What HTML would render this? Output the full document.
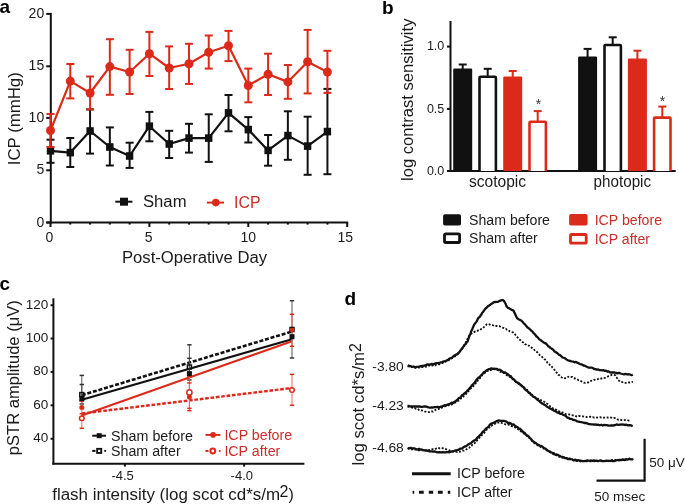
<!DOCTYPE html>
<html><head><meta charset="utf-8"><style>
html,body{margin:0;padding:0;background:#fff;}
svg{display:block;will-change:transform;font-family:"Liberation Sans", sans-serif;}
</style></head><body>
<svg width="685" height="504" viewBox="0 0 685 504">
<rect width="685" height="504" fill="#fff"/>
<text x="-0.6" y="12.5" font-size="19" fill="#000" text-anchor="start" font-weight="bold" >a</text>
<line x1="50.8" y1="12.9" x2="50.8" y2="223.5" stroke="#111111" stroke-width="2" />
<line x1="46.2" y1="13.9" x2="50.8" y2="13.9" stroke="#111111" stroke-width="2" />
<text x="44.2" y="18.0" font-size="14" fill="#1a1a1a" text-anchor="end" >20</text>
<line x1="46.2" y1="66.3" x2="50.8" y2="66.3" stroke="#111111" stroke-width="2" />
<text x="44.2" y="70.39999999999999" font-size="14" fill="#1a1a1a" text-anchor="end" >15</text>
<line x1="46.2" y1="117.9" x2="50.8" y2="117.9" stroke="#111111" stroke-width="2" />
<text x="44.2" y="122.0" font-size="14" fill="#1a1a1a" text-anchor="end" >10</text>
<line x1="46.2" y1="170.3" x2="50.8" y2="170.3" stroke="#111111" stroke-width="2" />
<text x="44.2" y="174.4" font-size="14" fill="#1a1a1a" text-anchor="end" >5</text>
<line x1="46.2" y1="222.5" x2="50.8" y2="222.5" stroke="#111111" stroke-width="2" />
<text x="44.2" y="226.6" font-size="14" fill="#1a1a1a" text-anchor="end" >0</text>
<line x1="46.2" y1="222.5" x2="348.2" y2="222.5" stroke="#111111" stroke-width="2" />
<line x1="50.5" y1="222.5" x2="50.5" y2="227.0" stroke="#111111" stroke-width="2" />
<line x1="70.28" y1="222.5" x2="70.28" y2="224.6" stroke="#111111" stroke-width="2" />
<line x1="90.06" y1="222.5" x2="90.06" y2="224.6" stroke="#111111" stroke-width="2" />
<line x1="109.84" y1="222.5" x2="109.84" y2="224.6" stroke="#111111" stroke-width="2" />
<line x1="129.62" y1="222.5" x2="129.62" y2="224.6" stroke="#111111" stroke-width="2" />
<line x1="149.4" y1="222.5" x2="149.4" y2="227.0" stroke="#111111" stroke-width="2" />
<line x1="169.18" y1="222.5" x2="169.18" y2="224.6" stroke="#111111" stroke-width="2" />
<line x1="188.96" y1="222.5" x2="188.96" y2="224.6" stroke="#111111" stroke-width="2" />
<line x1="208.74" y1="222.5" x2="208.74" y2="224.6" stroke="#111111" stroke-width="2" />
<line x1="228.52" y1="222.5" x2="228.52" y2="224.6" stroke="#111111" stroke-width="2" />
<line x1="248.3" y1="222.5" x2="248.3" y2="227.0" stroke="#111111" stroke-width="2" />
<line x1="268.08000000000004" y1="222.5" x2="268.08000000000004" y2="224.6" stroke="#111111" stroke-width="2" />
<line x1="287.86" y1="222.5" x2="287.86" y2="224.6" stroke="#111111" stroke-width="2" />
<line x1="307.64" y1="222.5" x2="307.64" y2="224.6" stroke="#111111" stroke-width="2" />
<line x1="327.42" y1="222.5" x2="327.42" y2="224.6" stroke="#111111" stroke-width="2" />
<line x1="347.20000000000005" y1="222.5" x2="347.20000000000005" y2="227.0" stroke="#111111" stroke-width="2" />
<text x="49.4" y="242.3" font-size="14" fill="#1a1a1a" text-anchor="middle" >0</text>
<text x="148.6" y="242.3" font-size="14" fill="#1a1a1a" text-anchor="middle" >5</text>
<text x="248.3" y="242.3" font-size="14" fill="#1a1a1a" text-anchor="middle" >10</text>
<text x="345.2" y="242.3" font-size="14" fill="#1a1a1a" text-anchor="middle" >15</text>
<text x="20.2" y="165.2" font-size="16" fill="#1a1a1a" text-anchor="start" textLength="93" lengthAdjust="spacingAndGlyphs" transform="rotate(-90 20.2 165.2)" >ICP (mmHg)</text>
<text x="122.0" y="262.7" font-size="16" fill="#1a1a1a" text-anchor="start" textLength="145" lengthAdjust="spacingAndGlyphs" >Post-Operative Day</text>
<line x1="50.5" y1="139.7" x2="50.5" y2="162.8" stroke="#111111" stroke-width="2" />
<line x1="46.5" y1="139.7" x2="54.5" y2="139.7" stroke="#111111" stroke-width="2" />
<line x1="46.5" y1="162.8" x2="54.5" y2="162.8" stroke="#111111" stroke-width="2" />
<line x1="70.28" y1="138.0" x2="70.28" y2="167.0" stroke="#111111" stroke-width="2" />
<line x1="66.28" y1="138.0" x2="74.28" y2="138.0" stroke="#111111" stroke-width="2" />
<line x1="66.28" y1="167.0" x2="74.28" y2="167.0" stroke="#111111" stroke-width="2" />
<line x1="90.06" y1="109.4" x2="90.06" y2="153.6" stroke="#111111" stroke-width="2" />
<line x1="86.06" y1="109.4" x2="94.06" y2="109.4" stroke="#111111" stroke-width="2" />
<line x1="86.06" y1="153.6" x2="94.06" y2="153.6" stroke="#111111" stroke-width="2" />
<line x1="109.84" y1="127.4" x2="109.84" y2="165.5" stroke="#111111" stroke-width="2" />
<line x1="105.84" y1="127.4" x2="113.84" y2="127.4" stroke="#111111" stroke-width="2" />
<line x1="105.84" y1="165.5" x2="113.84" y2="165.5" stroke="#111111" stroke-width="2" />
<line x1="129.62" y1="142.7" x2="129.62" y2="167.9" stroke="#111111" stroke-width="2" />
<line x1="125.62" y1="142.7" x2="133.62" y2="142.7" stroke="#111111" stroke-width="2" />
<line x1="125.62" y1="167.9" x2="133.62" y2="167.9" stroke="#111111" stroke-width="2" />
<line x1="149.4" y1="111.9" x2="149.4" y2="141.3" stroke="#111111" stroke-width="2" />
<line x1="145.4" y1="111.9" x2="153.4" y2="111.9" stroke="#111111" stroke-width="2" />
<line x1="145.4" y1="141.3" x2="153.4" y2="141.3" stroke="#111111" stroke-width="2" />
<line x1="169.18" y1="130.8" x2="169.18" y2="158.0" stroke="#111111" stroke-width="2" />
<line x1="165.18" y1="130.8" x2="173.18" y2="130.8" stroke="#111111" stroke-width="2" />
<line x1="165.18" y1="158.0" x2="173.18" y2="158.0" stroke="#111111" stroke-width="2" />
<line x1="188.96" y1="123.8" x2="188.96" y2="152.6" stroke="#111111" stroke-width="2" />
<line x1="184.96" y1="123.8" x2="192.96" y2="123.8" stroke="#111111" stroke-width="2" />
<line x1="184.96" y1="152.6" x2="192.96" y2="152.6" stroke="#111111" stroke-width="2" />
<line x1="208.74" y1="114.3" x2="208.74" y2="161.9" stroke="#111111" stroke-width="2" />
<line x1="204.74" y1="114.3" x2="212.74" y2="114.3" stroke="#111111" stroke-width="2" />
<line x1="204.74" y1="161.9" x2="212.74" y2="161.9" stroke="#111111" stroke-width="2" />
<line x1="228.52" y1="95.0" x2="228.52" y2="131.3" stroke="#111111" stroke-width="2" />
<line x1="224.52" y1="95.0" x2="232.52" y2="95.0" stroke="#111111" stroke-width="2" />
<line x1="224.52" y1="131.3" x2="232.52" y2="131.3" stroke="#111111" stroke-width="2" />
<line x1="248.3" y1="117.1" x2="248.3" y2="142.5" stroke="#111111" stroke-width="2" />
<line x1="244.3" y1="117.1" x2="252.3" y2="117.1" stroke="#111111" stroke-width="2" />
<line x1="244.3" y1="142.5" x2="252.3" y2="142.5" stroke="#111111" stroke-width="2" />
<line x1="268.08000000000004" y1="135.0" x2="268.08000000000004" y2="165.7" stroke="#111111" stroke-width="2" />
<line x1="264.08000000000004" y1="135.0" x2="272.08000000000004" y2="135.0" stroke="#111111" stroke-width="2" />
<line x1="264.08000000000004" y1="165.7" x2="272.08000000000004" y2="165.7" stroke="#111111" stroke-width="2" />
<line x1="287.86" y1="111.3" x2="287.86" y2="159.8" stroke="#111111" stroke-width="2" />
<line x1="283.86" y1="111.3" x2="291.86" y2="111.3" stroke="#111111" stroke-width="2" />
<line x1="283.86" y1="159.8" x2="291.86" y2="159.8" stroke="#111111" stroke-width="2" />
<line x1="307.64" y1="116.7" x2="307.64" y2="174.8" stroke="#111111" stroke-width="2" />
<line x1="303.64" y1="116.7" x2="311.64" y2="116.7" stroke="#111111" stroke-width="2" />
<line x1="303.64" y1="174.8" x2="311.64" y2="174.8" stroke="#111111" stroke-width="2" />
<line x1="327.42" y1="88.9" x2="327.42" y2="174.2" stroke="#111111" stroke-width="2" />
<line x1="323.42" y1="88.9" x2="331.42" y2="88.9" stroke="#111111" stroke-width="2" />
<line x1="323.42" y1="174.2" x2="331.42" y2="174.2" stroke="#111111" stroke-width="2" />
<polyline points="50.5,150.8 70.3,152.6 90.1,131.0 109.8,147.0 129.6,156.0 149.4,126.2 169.2,144.0 189.0,138.1 208.7,138.1 228.5,112.9 248.3,129.6 268.1,150.4 287.9,135.6 307.6,146.1 327.4,131.6" fill="none" stroke="#111111" stroke-width="2.2" stroke-linejoin="round"/>
<rect x="46.8" y="147.0" width="7.4" height="7.6" fill="#111111"/>
<rect x="66.6" y="148.8" width="7.4" height="7.6" fill="#111111"/>
<rect x="86.4" y="127.2" width="7.4" height="7.6" fill="#111111"/>
<rect x="106.1" y="143.2" width="7.4" height="7.6" fill="#111111"/>
<rect x="125.9" y="152.2" width="7.4" height="7.6" fill="#111111"/>
<rect x="145.7" y="122.4" width="7.4" height="7.6" fill="#111111"/>
<rect x="165.5" y="140.2" width="7.4" height="7.6" fill="#111111"/>
<rect x="185.3" y="134.3" width="7.4" height="7.6" fill="#111111"/>
<rect x="205.0" y="134.3" width="7.4" height="7.6" fill="#111111"/>
<rect x="224.8" y="109.1" width="7.4" height="7.6" fill="#111111"/>
<rect x="244.6" y="125.8" width="7.4" height="7.6" fill="#111111"/>
<rect x="264.4" y="146.6" width="7.4" height="7.6" fill="#111111"/>
<rect x="284.2" y="131.8" width="7.4" height="7.6" fill="#111111"/>
<rect x="303.9" y="142.3" width="7.4" height="7.6" fill="#111111"/>
<rect x="323.7" y="127.8" width="7.4" height="7.6" fill="#111111"/>
<line x1="50.5" y1="114.0" x2="50.5" y2="147.0" stroke="#dc2a1a" stroke-width="2" />
<line x1="46.5" y1="114.0" x2="54.5" y2="114.0" stroke="#dc2a1a" stroke-width="2" />
<line x1="46.5" y1="147.0" x2="54.5" y2="147.0" stroke="#dc2a1a" stroke-width="2" />
<line x1="70.28" y1="64.0" x2="70.28" y2="98.4" stroke="#dc2a1a" stroke-width="2" />
<line x1="66.28" y1="64.0" x2="74.28" y2="64.0" stroke="#dc2a1a" stroke-width="2" />
<line x1="66.28" y1="98.4" x2="74.28" y2="98.4" stroke="#dc2a1a" stroke-width="2" />
<line x1="90.06" y1="76.5" x2="90.06" y2="109.4" stroke="#dc2a1a" stroke-width="2" />
<line x1="86.06" y1="76.5" x2="94.06" y2="76.5" stroke="#dc2a1a" stroke-width="2" />
<line x1="86.06" y1="109.4" x2="94.06" y2="109.4" stroke="#dc2a1a" stroke-width="2" />
<line x1="109.84" y1="39.2" x2="109.84" y2="94.8" stroke="#dc2a1a" stroke-width="2" />
<line x1="105.84" y1="39.2" x2="113.84" y2="39.2" stroke="#dc2a1a" stroke-width="2" />
<line x1="105.84" y1="94.8" x2="113.84" y2="94.8" stroke="#dc2a1a" stroke-width="2" />
<line x1="129.62" y1="49.8" x2="129.62" y2="94.0" stroke="#dc2a1a" stroke-width="2" />
<line x1="125.62" y1="49.8" x2="133.62" y2="49.8" stroke="#dc2a1a" stroke-width="2" />
<line x1="125.62" y1="94.0" x2="133.62" y2="94.0" stroke="#dc2a1a" stroke-width="2" />
<line x1="149.4" y1="31.9" x2="149.4" y2="76.0" stroke="#dc2a1a" stroke-width="2" />
<line x1="145.4" y1="31.9" x2="153.4" y2="31.9" stroke="#dc2a1a" stroke-width="2" />
<line x1="145.4" y1="76.0" x2="153.4" y2="76.0" stroke="#dc2a1a" stroke-width="2" />
<line x1="169.18" y1="46.4" x2="169.18" y2="89.0" stroke="#dc2a1a" stroke-width="2" />
<line x1="165.18" y1="46.4" x2="173.18" y2="46.4" stroke="#dc2a1a" stroke-width="2" />
<line x1="165.18" y1="89.0" x2="173.18" y2="89.0" stroke="#dc2a1a" stroke-width="2" />
<line x1="188.96" y1="43.8" x2="188.96" y2="83.9" stroke="#dc2a1a" stroke-width="2" />
<line x1="184.96" y1="43.8" x2="192.96" y2="43.8" stroke="#dc2a1a" stroke-width="2" />
<line x1="184.96" y1="83.9" x2="192.96" y2="83.9" stroke="#dc2a1a" stroke-width="2" />
<line x1="208.74" y1="35.5" x2="208.74" y2="68.6" stroke="#dc2a1a" stroke-width="2" />
<line x1="204.74" y1="35.5" x2="212.74" y2="35.5" stroke="#dc2a1a" stroke-width="2" />
<line x1="204.74" y1="68.6" x2="212.74" y2="68.6" stroke="#dc2a1a" stroke-width="2" />
<line x1="228.52" y1="30.9" x2="228.52" y2="61.1" stroke="#dc2a1a" stroke-width="2" />
<line x1="224.52" y1="30.9" x2="232.52" y2="30.9" stroke="#dc2a1a" stroke-width="2" />
<line x1="224.52" y1="61.1" x2="232.52" y2="61.1" stroke="#dc2a1a" stroke-width="2" />
<line x1="248.3" y1="68.6" x2="248.3" y2="102.3" stroke="#dc2a1a" stroke-width="2" />
<line x1="244.3" y1="68.6" x2="252.3" y2="68.6" stroke="#dc2a1a" stroke-width="2" />
<line x1="244.3" y1="102.3" x2="252.3" y2="102.3" stroke="#dc2a1a" stroke-width="2" />
<line x1="268.08000000000004" y1="53.7" x2="268.08000000000004" y2="95.0" stroke="#dc2a1a" stroke-width="2" />
<line x1="264.08000000000004" y1="53.7" x2="272.08000000000004" y2="53.7" stroke="#dc2a1a" stroke-width="2" />
<line x1="264.08000000000004" y1="95.0" x2="272.08000000000004" y2="95.0" stroke="#dc2a1a" stroke-width="2" />
<line x1="287.86" y1="65.0" x2="287.86" y2="98.8" stroke="#dc2a1a" stroke-width="2" />
<line x1="283.86" y1="65.0" x2="291.86" y2="65.0" stroke="#dc2a1a" stroke-width="2" />
<line x1="283.86" y1="98.8" x2="291.86" y2="98.8" stroke="#dc2a1a" stroke-width="2" />
<line x1="307.64" y1="29.9" x2="307.64" y2="93.4" stroke="#dc2a1a" stroke-width="2" />
<line x1="303.64" y1="29.9" x2="311.64" y2="29.9" stroke="#dc2a1a" stroke-width="2" />
<line x1="303.64" y1="93.4" x2="311.64" y2="93.4" stroke="#dc2a1a" stroke-width="2" />
<line x1="327.42" y1="50.8" x2="327.42" y2="92.9" stroke="#dc2a1a" stroke-width="2" />
<line x1="323.42" y1="50.8" x2="331.42" y2="50.8" stroke="#dc2a1a" stroke-width="2" />
<line x1="323.42" y1="92.9" x2="331.42" y2="92.9" stroke="#dc2a1a" stroke-width="2" />
<polyline points="50.5,130.5 70.3,81.1 90.1,93.0 109.8,66.6 129.6,72.0 149.4,53.7 169.2,68.0 189.0,63.7 208.7,52.3 228.5,45.8 248.3,85.5 268.1,74.2 287.9,81.9 307.6,61.7 327.4,72.0" fill="none" stroke="#dc2a1a" stroke-width="2.2" stroke-linejoin="round"/>
<circle cx="50.5" cy="130.5" r="4.5" fill="#dc2a1a"/>
<circle cx="70.3" cy="81.1" r="4.5" fill="#dc2a1a"/>
<circle cx="90.1" cy="93.0" r="4.5" fill="#dc2a1a"/>
<circle cx="109.8" cy="66.6" r="4.5" fill="#dc2a1a"/>
<circle cx="129.6" cy="72.0" r="4.5" fill="#dc2a1a"/>
<circle cx="149.4" cy="53.7" r="4.5" fill="#dc2a1a"/>
<circle cx="169.2" cy="68.0" r="4.5" fill="#dc2a1a"/>
<circle cx="189.0" cy="63.7" r="4.5" fill="#dc2a1a"/>
<circle cx="208.7" cy="52.3" r="4.5" fill="#dc2a1a"/>
<circle cx="228.5" cy="45.8" r="4.5" fill="#dc2a1a"/>
<circle cx="248.3" cy="85.5" r="4.5" fill="#dc2a1a"/>
<circle cx="268.1" cy="74.2" r="4.5" fill="#dc2a1a"/>
<circle cx="287.9" cy="81.9" r="4.5" fill="#dc2a1a"/>
<circle cx="307.6" cy="61.7" r="4.5" fill="#dc2a1a"/>
<circle cx="327.4" cy="72.0" r="4.5" fill="#dc2a1a"/>
<line x1="115.3" y1="201.7" x2="132.4" y2="201.7" stroke="#111111" stroke-width="2" />
<rect x="120" y="197.7" width="8" height="8" fill="#111111"/>
<text x="143.0" y="207.3" font-size="16" fill="#1a1a1a" text-anchor="start" textLength="43.5" lengthAdjust="spacingAndGlyphs" >Sham</text>
<line x1="206.9" y1="202.6" x2="224" y2="202.6" stroke="#dc2a1a" stroke-width="2" />
<circle cx="215.8" cy="202.6" r="3.8" fill="#dc2a1a"/>
<text x="234.0" y="207.8" font-size="16" fill="#c92e28" text-anchor="start" textLength="26.5" lengthAdjust="spacingAndGlyphs" >ICP</text>
<text x="382.0" y="13.5" font-size="19" fill="#000" text-anchor="start" font-weight="bold" >b</text>
<line x1="450.5" y1="21" x2="450.5" y2="172" stroke="#111111" stroke-width="2" />
<line x1="447" y1="46.6" x2="450.5" y2="46.6" stroke="#111111" stroke-width="2" />
<text x="444.3" y="50.1" font-size="12.5" fill="#1a1a1a" text-anchor="end" >1.0</text>
<line x1="447" y1="108.9" x2="450.5" y2="108.9" stroke="#111111" stroke-width="2" />
<text x="444.3" y="112.8" font-size="12.5" fill="#1a1a1a" text-anchor="end" >0.5</text>
<line x1="447" y1="171" x2="450.5" y2="171" stroke="#111111" stroke-width="2" />
<text x="444.3" y="175.3" font-size="12.5" fill="#1a1a1a" text-anchor="end" >0.0</text>
<line x1="447" y1="171" x2="675.7" y2="171" stroke="#111111" stroke-width="2" />
<line x1="462.7" y1="64.5" x2="462.7" y2="69.5" stroke="#111111" stroke-width="2" />
<line x1="458.7" y1="64.5" x2="466.7" y2="64.5" stroke="#111111" stroke-width="2" />
<rect x="453.2" y="68.5" width="19" height="102.5" rx="1.2" fill="#111111"/>
<line x1="487.7" y1="68.8" x2="487.7" y2="76.5" stroke="#111111" stroke-width="2" />
<line x1="483.7" y1="68.8" x2="491.7" y2="68.8" stroke="#111111" stroke-width="2" />
<path d="M479.50,171 V77.80 Q479.50,76.80 480.50,76.80 H494.90 Q495.90,76.80 495.90,77.80 V171" fill="#fff" stroke="#111111" stroke-width="2.6"/>
<line x1="512.7" y1="71.0" x2="512.7" y2="77.6" stroke="#dc2a1a" stroke-width="2" />
<line x1="508.70000000000005" y1="71.0" x2="516.7" y2="71.0" stroke="#dc2a1a" stroke-width="2" />
<rect x="503.2" y="76.6" width="19" height="94.4" rx="1.2" fill="#dc2a1a"/>
<line x1="537.7" y1="111.1" x2="537.7" y2="121.4" stroke="#dc2a1a" stroke-width="2" />
<line x1="533.7" y1="111.1" x2="541.7" y2="111.1" stroke="#dc2a1a" stroke-width="2" />
<path d="M529.50,171 V122.70 Q529.50,121.70 530.50,121.70 H544.90 Q545.90,121.70 545.90,122.70 V171" fill="#fff" stroke="#dc2a1a" stroke-width="2.6"/>
<line x1="587.6" y1="48.9" x2="587.6" y2="57.5" stroke="#111111" stroke-width="2" />
<line x1="583.6" y1="48.9" x2="591.6" y2="48.9" stroke="#111111" stroke-width="2" />
<rect x="578.1" y="56.5" width="19" height="114.5" rx="1.2" fill="#111111"/>
<line x1="612.7" y1="37.3" x2="612.7" y2="44.7" stroke="#111111" stroke-width="2" />
<line x1="608.7" y1="37.3" x2="616.7" y2="37.3" stroke="#111111" stroke-width="2" />
<path d="M604.50,171 V46.00 Q604.50,45.00 605.50,45.00 H619.90 Q620.90,45.00 620.90,46.00 V171" fill="#fff" stroke="#111111" stroke-width="2.6"/>
<line x1="637.4" y1="50.7" x2="637.4" y2="59.6" stroke="#dc2a1a" stroke-width="2" />
<line x1="633.4" y1="50.7" x2="641.4" y2="50.7" stroke="#dc2a1a" stroke-width="2" />
<rect x="627.9" y="58.6" width="19" height="112.4" rx="1.2" fill="#dc2a1a"/>
<line x1="662.3" y1="106.6" x2="662.3" y2="117.3" stroke="#dc2a1a" stroke-width="2" />
<line x1="658.3" y1="106.6" x2="666.3" y2="106.6" stroke="#dc2a1a" stroke-width="2" />
<path d="M654.10,171 V118.60 Q654.10,117.60 655.10,117.60 H669.50 Q670.50,117.60 670.50,118.60 V171" fill="#fff" stroke="#dc2a1a" stroke-width="2.6"/>
<text x="538.5" y="109.0" font-size="14" fill="#333" text-anchor="middle" >*</text>
<text x="662.4" y="105.5" font-size="14" fill="#333" text-anchor="middle" >*</text>
<text x="412.6" y="181.0" font-size="16" fill="#1a1a1a" text-anchor="start" textLength="162.5" lengthAdjust="spacingAndGlyphs" transform="rotate(-90 412.6 181.0)" >log contrast sensitivity</text>
<text x="469.0" y="187.0" font-size="16" fill="#1a1a1a" text-anchor="start" textLength="57" lengthAdjust="spacingAndGlyphs" >scotopic</text>
<text x="593.6" y="186.8" font-size="16" fill="#1a1a1a" text-anchor="start" textLength="57.5" lengthAdjust="spacingAndGlyphs" >photopic</text>
<rect x="443.1" y="214.3" width="17.9" height="11.2" rx="1.8" fill="#111111"/>
<rect x="444.5" y="233.9" width="15.1" height="8.6" rx="1.2" fill="#fff" stroke="#111111" stroke-width="2.8"/>
<rect x="569.1" y="214.1" width="18.5" height="11.4" rx="1.8" fill="#dc2a1a"/>
<rect x="570.5" y="234.5" width="15.7" height="8.6" rx="1.2" fill="#fff" stroke="#dc2a1a" stroke-width="2.8"/>
<text x="469.0" y="224.8" font-size="14" fill="#1a1a1a" text-anchor="start" textLength="81" lengthAdjust="spacingAndGlyphs" >Sham before</text>
<text x="469.0" y="242.8" font-size="14" fill="#1a1a1a" text-anchor="start" textLength="68.8" lengthAdjust="spacingAndGlyphs" >Sham after</text>
<text x="594.7" y="225.2" font-size="14" fill="#c92e28" text-anchor="start" textLength="67.3" lengthAdjust="spacingAndGlyphs" >ICP before</text>
<text x="594.7" y="243.9" font-size="14" fill="#c92e28" text-anchor="start" textLength="55.3" lengthAdjust="spacingAndGlyphs" >ICP after</text>
<text x="-0.6" y="290.4" font-size="19" fill="#000" text-anchor="start" font-weight="bold" >c</text>
<line x1="53.4" y1="298.3" x2="53.4" y2="464.6" stroke="#111111" stroke-width="2" />
<line x1="50.6" y1="305.2" x2="53.4" y2="305.2" stroke="#111111" stroke-width="2" />
<text x="48.2" y="308.5" font-size="13.5" fill="#1a1a1a" text-anchor="end" >120</text>
<line x1="50.6" y1="338.5" x2="53.4" y2="338.5" stroke="#111111" stroke-width="2" />
<text x="48.2" y="341.8" font-size="13.5" fill="#1a1a1a" text-anchor="end" >100</text>
<line x1="50.6" y1="371.9" x2="53.4" y2="371.9" stroke="#111111" stroke-width="2" />
<text x="48.2" y="375.2" font-size="13.5" fill="#1a1a1a" text-anchor="end" >80</text>
<line x1="50.6" y1="405.3" x2="53.4" y2="405.3" stroke="#111111" stroke-width="2" />
<text x="48.2" y="408.6" font-size="13.5" fill="#1a1a1a" text-anchor="end" >60</text>
<line x1="50.6" y1="438.8" x2="53.4" y2="438.8" stroke="#111111" stroke-width="2" />
<text x="48.2" y="442.1" font-size="13.5" fill="#1a1a1a" text-anchor="end" >40</text>
<line x1="52.4" y1="463.8" x2="304.4" y2="463.8" stroke="#111111" stroke-width="2" />
<line x1="124.9" y1="463" x2="124.9" y2="466.6" stroke="#111111" stroke-width="2" />
<text x="122.60000000000001" y="480" font-size="13" fill="#1a1a1a" text-anchor="middle" >-4.5</text>
<line x1="244.1" y1="463" x2="244.1" y2="466.6" stroke="#111111" stroke-width="2" />
<text x="241.79999999999998" y="480" font-size="13" fill="#1a1a1a" text-anchor="middle" >-4.0</text>
<text x="18.8" y="455.2" font-size="16" fill="#1a1a1a" text-anchor="start" textLength="155" lengthAdjust="spacingAndGlyphs" transform="rotate(-90 18.8 455.2)" >pSTR amplitude (&#956;V)</text>
<text x="52.2" y="499.7" font-size="16" fill="#1a1a1a" textLength="228" lengthAdjust="spacingAndGlyphs">flash intensity (log scot cd*s/m</text>
<text x="279.6" y="496.6" font-size="16" fill="#1a1a1a" text-anchor="start" >2</text>
<text x="288.5" y="499.7" font-size="16" fill="#1a1a1a" text-anchor="start" >)</text>
<line x1="81.8" y1="399.8" x2="292.0" y2="339.2" stroke="#111111" stroke-width="2.2" />
<line x1="81.8" y1="395.2" x2="292.0" y2="331.5" stroke="#111111" stroke-width="2.6" stroke-dasharray="4 1.8"/>
<line x1="81.8" y1="415.5" x2="292.0" y2="341.2" stroke="#dc2a1a" stroke-width="2" />
<line x1="81.8" y1="413.5" x2="292.0" y2="388.0" stroke="#dc2a1a" stroke-width="2.4" stroke-dasharray="3.7 1.7"/>
<line x1="81.8" y1="375.4" x2="81.8" y2="401.0" stroke="#555" stroke-width="1.0" />
<line x1="79.6" y1="375.4" x2="84.0" y2="375.4" stroke="#333" stroke-width="1.5" />
<line x1="79.6" y1="401.0" x2="84.0" y2="401.0" stroke="#333" stroke-width="1.5" />
<line x1="81.8" y1="384.5" x2="81.8" y2="404" stroke="#555" stroke-width="1.0" />
<line x1="79.6" y1="384.5" x2="84.0" y2="384.5" stroke="#333" stroke-width="1.5" />
<line x1="79.6" y1="404" x2="84.0" y2="404" stroke="#333" stroke-width="1.5" />
<line x1="81.8" y1="401.0" x2="81.8" y2="428.3" stroke="#e46a5c" stroke-width="1.0" />
<line x1="79.6" y1="401.0" x2="84.0" y2="401.0" stroke="#dc2a1a" stroke-width="1.5" />
<line x1="79.6" y1="428.3" x2="84.0" y2="428.3" stroke="#dc2a1a" stroke-width="1.5" />
<line x1="81.8" y1="413.7" x2="81.8" y2="420" stroke="#e46a5c" stroke-width="1.0" />
<line x1="79.6" y1="413.7" x2="84.0" y2="413.7" stroke="#dc2a1a" stroke-width="1.5" />
<line x1="79.6" y1="420" x2="84.0" y2="420" stroke="#dc2a1a" stroke-width="1.5" />
<line x1="189.4" y1="344.8" x2="189.4" y2="373" stroke="#555" stroke-width="1.0" />
<line x1="187.20000000000002" y1="344.8" x2="191.6" y2="344.8" stroke="#333" stroke-width="1.5" />
<line x1="187.20000000000002" y1="373" x2="191.6" y2="373" stroke="#333" stroke-width="1.5" />
<line x1="189.4" y1="358.3" x2="189.4" y2="380" stroke="#555" stroke-width="1.0" />
<line x1="187.20000000000002" y1="358.3" x2="191.6" y2="358.3" stroke="#333" stroke-width="1.5" />
<line x1="187.20000000000002" y1="380" x2="191.6" y2="380" stroke="#333" stroke-width="1.5" />
<line x1="189.4" y1="376.5" x2="189.4" y2="410.6" stroke="#e46a5c" stroke-width="1.0" />
<line x1="187.20000000000002" y1="376.5" x2="191.6" y2="376.5" stroke="#dc2a1a" stroke-width="1.5" />
<line x1="187.20000000000002" y1="410.6" x2="191.6" y2="410.6" stroke="#dc2a1a" stroke-width="1.5" />
<line x1="189.4" y1="382.9" x2="189.4" y2="408.3" stroke="#e46a5c" stroke-width="1.0" />
<line x1="187.20000000000002" y1="382.9" x2="191.6" y2="382.9" stroke="#dc2a1a" stroke-width="1.5" />
<line x1="187.20000000000002" y1="408.3" x2="191.6" y2="408.3" stroke="#dc2a1a" stroke-width="1.5" />
<line x1="292.0" y1="300.7" x2="292.0" y2="358.0" stroke="#555" stroke-width="1.0" />
<line x1="289.8" y1="300.7" x2="294.2" y2="300.7" stroke="#333" stroke-width="1.5" />
<line x1="289.8" y1="358.0" x2="294.2" y2="358.0" stroke="#333" stroke-width="1.5" />
<line x1="292.0" y1="314.3" x2="292.0" y2="346.3" stroke="#e46a5c" stroke-width="1.0" />
<line x1="289.8" y1="314.3" x2="294.2" y2="314.3" stroke="#dc2a1a" stroke-width="1.5" />
<line x1="289.8" y1="346.3" x2="294.2" y2="346.3" stroke="#dc2a1a" stroke-width="1.5" />
<line x1="292.0" y1="374.4" x2="292.0" y2="405.3" stroke="#e46a5c" stroke-width="1.0" />
<line x1="289.8" y1="374.4" x2="294.2" y2="374.4" stroke="#dc2a1a" stroke-width="1.5" />
<line x1="289.8" y1="405.3" x2="294.2" y2="405.3" stroke="#dc2a1a" stroke-width="1.5" />
<rect x="79.3" y="396.0" width="5" height="5" fill="#111111"/>
<rect x="79.8" y="392.6" width="4.0" height="4.0" fill="none" stroke="#111111" stroke-width="1.5"/>
<circle cx="81.8" cy="407.4" r="2.5" fill="#dc2a1a"/>
<circle cx="81.8" cy="418.3" r="2.3" fill="#fff" stroke="#dc2a1a" stroke-width="1.5"/>
<rect x="186.9" y="371.1" width="5" height="5" fill="#111111"/>
<rect x="187.4" y="365.0" width="4.0" height="4.0" fill="none" stroke="#111111" stroke-width="1.5"/>
<circle cx="189.4" cy="397.0" r="2.5" fill="#dc2a1a"/>
<circle cx="189.4" cy="392.4" r="2.5999999999999996" fill="#fff" stroke="#dc2a1a" stroke-width="1.5"/>
<rect x="289.5" y="334.2" width="5" height="5" fill="#111111"/>
<rect x="290.0" y="327.5" width="4.0" height="4.0" fill="none" stroke="#111111" stroke-width="1.5"/>
<circle cx="292.0" cy="330.0" r="2.3" fill="#dc2a1a"/>
<circle cx="292.0" cy="390.0" r="2.3" fill="#fff" stroke="#dc2a1a" stroke-width="1.5"/>
<line x1="92.2" y1="435.7" x2="106" y2="435.7" stroke="#111111" stroke-width="2" />
<rect x="96.7" y="433.2" width="5" height="5" fill="#111111"/>
<line x1="92.2" y1="450.9" x2="95.5" y2="450.9" stroke="#111111" stroke-width="2" />
<rect x="97.15" y="448.84999999999997" width="4.1" height="4.1" fill="none" stroke="#111111" stroke-width="1.9"/>
<rect x="104.3" y="450" width="1.8" height="1.8" fill="#111111"/>
<text x="111.0" y="440.5" font-size="14" fill="#1a1a1a" text-anchor="start" textLength="82" lengthAdjust="spacingAndGlyphs" >Sham before</text>
<text x="111.0" y="455.5" font-size="14" fill="#1a1a1a" text-anchor="start" textLength="69.7" lengthAdjust="spacingAndGlyphs" >Sham after</text>
<line x1="205.5" y1="434.9" x2="220.4" y2="434.9" stroke="#dc2a1a" stroke-width="2" />
<circle cx="213.1" cy="434.9" r="2.8" fill="#dc2a1a"/>
<line x1="205.5" y1="451.0" x2="208.5" y2="451.0" stroke="#dc2a1a" stroke-width="2" />
<circle cx="212.8" cy="451.0" r="2.4" fill="#fff" stroke="#dc2a1a" stroke-width="2.0"/>
<rect x="218.8" y="450.1" width="1.8" height="1.8" fill="#dc2a1a"/>
<text x="224.4" y="440.3" font-size="14" fill="#c92e28" text-anchor="start" textLength="67.8" lengthAdjust="spacingAndGlyphs" >ICP before</text>
<text x="224.4" y="456.4" font-size="14" fill="#c92e28" text-anchor="start" textLength="55.9" lengthAdjust="spacingAndGlyphs" >ICP after</text>
<text x="344.5" y="305.4" font-size="19" fill="#000" text-anchor="start" font-weight="bold" >d</text>
<text x="363.8" y="465.5" font-size="16" fill="#1a1a1a" transform="rotate(-90 363.8 465.5)"><tspan textLength="113.5" lengthAdjust="spacingAndGlyphs">log scot cd*s/m</tspan><tspan dy="-3">2</tspan></text>
<text x="372.3" y="370.8" font-size="13.5" fill="#1a1a1a" text-anchor="start" textLength="31.5" lengthAdjust="spacingAndGlyphs" >-3.80</text>
<text x="372.3" y="409.7" font-size="13.5" fill="#1a1a1a" text-anchor="start" textLength="31.5" lengthAdjust="spacingAndGlyphs" >-4.23</text>
<text x="372.3" y="452.3" font-size="13.5" fill="#1a1a1a" text-anchor="start" textLength="31.5" lengthAdjust="spacingAndGlyphs" >-4.68</text>
<polyline points="407.6,366.4 409.2,366.4 411.0,367.2 412.8,366.8 414.1,367.1 415.3,367.8 417.5,367.1 419.1,367.6 420.4,367.2 421.9,367.2 423.2,367.1 424.3,366.9 426.3,366.7 427.4,365.7 428.5,365.5 430.1,365.5 431.2,365.9 432.5,365.5 433.9,364.9 435.2,365.4 436.4,364.6 437.8,364.1 439.1,364.4 440.5,363.8 441.9,363.1 443.1,362.8 444.5,362.0 445.8,361.4 447.0,361.4 448.6,360.3 449.8,359.3 451.1,358.8 452.4,357.5 453.6,356.8 455.0,356.4 456.2,355.2 457.1,354.2 457.9,353.5 459.0,352.1 460.0,351.0 461.2,349.6 462.1,348.8 462.7,347.6 463.7,346.5 464.5,344.6 465.3,343.5 466.0,342.0 466.8,340.6 467.4,338.9 468.0,338.4 468.7,336.3 469.3,335.6 470.3,334.1 471.5,333.6 473.2,332.8 474.2,332.1 475.4,331.4 476.9,331.2 478.4,330.3 479.9,330.3 481.2,329.0 482.5,328.6 483.7,327.4 484.6,326.3 485.7,325.5 486.7,324.4 488.1,323.9 489.3,324.3 490.8,325.1 492.2,325.2 493.3,325.4 494.8,326.3 496.2,326.0 497.7,326.0 499.2,326.1 501.0,327.2 502.1,327.5 503.5,327.9 504.8,328.6 506.0,328.8 507.1,329.8 508.4,330.0 509.5,331.2 510.8,331.7 511.7,332.0 513.0,332.4 514.2,333.7 515.3,334.7 516.1,335.8 517.0,336.8 517.9,337.9 518.9,339.2 520.1,339.9 521.1,340.9 522.4,342.0 523.6,342.7 524.9,344.1 526.4,344.8 527.5,345.7 529.0,345.6 530.0,346.6 531.4,347.6 532.4,348.1 533.7,349.1 535.3,351.1 536.1,351.8 537.3,352.2 538.6,353.7 540.0,355.3 540.8,355.7 542.2,357.0 543.1,358.1 544.2,359.2 545.1,359.5 546.3,360.7 547.4,362.7 548.6,363.9 549.4,364.4 550.5,366.0 551.5,366.3 552.4,367.6 553.6,369.0 554.6,370.0 555.4,371.6 556.6,372.5 557.6,373.9 558.4,374.9 559.6,375.4 560.5,376.4 561.7,377.4 563.0,378.4 564.7,378.2 566.3,378.1 567.9,377.0 569.4,376.4 570.6,376.8 572.3,377.0 573.6,378.2 575.2,378.5 576.9,379.1 578.3,380.1 579.5,380.5 581.0,381.2 582.4,381.8 583.9,382.7 585.2,382.9 586.8,382.4 588.1,382.5 589.5,381.3 591.2,380.8 592.4,380.7 594.0,379.7 595.6,379.8 596.9,379.4 598.5,378.9 599.9,378.2 601.3,378.6 602.9,377.9 604.3,378.0 605.6,377.6 606.8,377.1 608.4,376.2 609.6,375.8 610.5,375.4 612.0,374.8 613.6,374.9 615.2,375.2 616.1,376.9 616.8,377.6 617.8,379.5 618.7,380.3 619.8,381.5 621.1,382.2 622.5,382.1 624.0,382.2 625.7,383.0 626.8,382.4 628.1,382.4 629.7,382.5 631.3,382.3 632.4,381.9 632.9,381.9" fill="none" stroke="#111111" stroke-width="1.8" stroke-dasharray="2 1.6" stroke-linejoin="round"/>
<polyline points="407.6,406.6 409.2,406.8 410.7,407.3 411.9,407.5 413.4,408.1 414.6,408.0 416.1,408.9 417.7,408.8 419.2,410.2 420.5,410.4 421.7,410.4 423.2,410.8 424.5,411.3 425.9,411.7 427.4,412.2 428.8,412.1 430.2,412.0 431.4,411.4 432.9,411.6 434.1,410.9 435.2,410.0 436.6,409.4 438.3,409.1 439.9,408.4 441.5,408.2 442.6,407.0 444.3,406.7 445.7,406.2 446.8,406.1 448.3,405.4 449.6,404.9 451.3,404.9 452.2,404.0 453.6,403.2 455.1,402.7 456.3,402.2 457.4,401.6 458.7,400.6 459.9,399.4 460.9,398.4 462.3,397.9 463.1,396.9 464.2,395.4 465.5,394.6 466.4,393.7 467.7,391.7 469.3,390.4 470.4,388.8 471.6,387.9 472.8,386.7 473.8,385.4 475.0,384.2 475.7,383.4 476.4,381.6 477.5,381.1 478.3,379.2 479.5,378.7 480.3,377.7 481.4,376.4 482.3,374.8 483.3,374.5 484.3,373.3 485.2,372.5 486.6,371.1 487.6,370.9 488.9,370.0 490.5,370.2 491.9,369.5 493.5,369.2 494.6,369.3 496.1,369.3 497.6,370.1 499.3,370.6 500.5,371.9 502.1,372.4 503.3,373.0 504.3,373.2 505.7,374.7 507.2,375.5 508.1,375.9 509.7,376.8 510.9,377.9 512.1,378.5 513.5,379.9 514.7,380.7 515.8,381.9 516.7,382.5 518.2,383.5 519.3,384.3 520.6,384.9 521.8,385.5 523.0,386.5 523.9,387.3 525.5,388.7 526.6,389.4 527.9,390.9 528.7,392.0 529.5,392.9 530.5,393.8 531.6,394.4 533.1,395.9 534.5,397.3 535.8,397.3 537.2,398.6 538.6,398.8 540.3,399.8 541.6,400.6 543.0,401.2 544.3,401.8 546.0,403.3 547.4,403.8 548.8,404.8 550.0,406.1 551.7,407.4 553.1,408.4 554.3,408.5 555.8,409.4 557.1,410.3 558.7,411.0 560.0,412.0 561.6,412.3 562.7,412.5 564.4,413.0 565.8,414.0 567.1,414.6 568.5,414.4 570.1,414.7 571.6,415.2 572.8,415.3 574.4,415.8 575.8,416.2 577.3,416.6 578.6,416.0 580.0,416.1 581.2,416.5 582.9,416.3 584.2,416.6 585.7,416.8 587.1,417.1 588.5,417.2 590.1,416.7 591.5,417.3 592.7,417.1 594.3,417.6 595.6,417.3 597.2,417.6 598.7,417.3 600.0,417.1 601.4,417.7 602.8,417.6 604.1,417.7 605.8,417.7 607.1,417.5 608.4,417.6 610.0,417.3 611.2,417.6 612.7,418.2 614.1,417.9 615.6,418.4 617.0,418.9 618.3,419.8 619.8,419.5 621.7,420.1 623.2,420.2 624.5,420.1 625.9,419.8 627.5,420.2 629.1,420.5 630.8,420.3 630.9,420.4" fill="none" stroke="#111111" stroke-width="1.8" stroke-dasharray="2 1.6" stroke-linejoin="round"/>
<polyline points="407.6,448.6 409.1,448.4 410.4,448.8 411.8,449.3 413.3,449.3 414.7,449.5 416.2,449.6 417.5,450.2 418.8,450.3 420.1,450.4 421.6,450.3 423.1,450.0 424.1,450.9 425.6,450.1 427.1,450.8 428.2,450.2 429.5,449.9 431.0,449.5 432.7,449.2 434.0,449.5 435.5,448.8 437.0,448.4 438.2,447.7 439.7,448.3 441.2,448.1 442.4,448.1 443.9,448.7 445.0,448.8 446.6,449.4 448.3,449.8 449.6,450.5 451.0,450.6 452.6,451.0 454.2,451.6 455.5,451.6 457.0,452.0 458.3,451.6 459.9,451.8 461.2,451.2 462.5,450.6 463.9,450.7 465.3,450.0 466.6,449.2 468.1,447.8 469.5,447.6 470.4,446.2 471.8,445.4 472.6,444.2 473.6,443.7 474.9,443.0 475.8,441.1 476.7,440.8 478.0,439.5 478.8,438.3 479.9,437.3 480.9,436.4 482.2,434.6 483.0,434.1 484.1,433.0 485.2,431.7 486.3,430.1 487.2,429.0 488.4,428.3 489.3,427.5 490.4,426.0 491.5,425.9 493.0,424.7 494.6,424.2 495.9,423.0 497.2,423.0 498.8,422.5 500.1,422.4 501.7,423.0 502.8,423.6 504.4,424.0 505.8,424.5 507.1,424.8 508.5,424.6 509.9,425.3 511.5,426.2 512.8,426.6 514.0,427.1 515.6,427.6 516.9,428.4 518.1,429.4 519.2,429.6 520.4,431.1 521.8,432.0 523.1,432.7 524.0,433.8 525.4,434.6 526.8,435.9 528.0,437.1 529.6,438.1 530.7,439.6 532.0,440.9 533.4,442.5 534.9,443.4 536.2,444.1 537.8,445.4 539.1,445.9 540.8,447.1 542.0,447.7 543.6,448.4 545.0,449.5 546.5,450.3 547.8,451.0 549.3,451.8 550.6,452.7 552.0,453.2 553.4,454.3 554.8,454.4 556.4,455.2 557.9,456.0 559.1,456.8 560.7,456.7 561.8,457.5 563.5,457.9 564.9,458.1 566.3,458.4 567.6,458.9 569.1,459.3 570.7,459.4 571.9,459.8 573.6,460.3 574.7,460.8 576.4,461.0 577.6,461.1 579.0,460.8 580.6,461.5 581.8,461.7 583.1,461.2 584.5,461.1 586.0,461.6 587.5,461.1 588.9,461.2 590.6,461.4 591.7,461.4 593.3,461.2 594.7,461.3 596.2,461.2 597.6,461.1 599.0,461.0 600.4,461.0 601.9,460.7 603.3,460.9 604.7,461.0 606.1,460.9 607.4,460.6 608.9,460.8 610.5,460.1 611.9,460.0 613.6,459.9 615.3,460.0 617.1,460.3 619.0,460.4 620.9,460.1 622.6,459.3 624.3,459.9 625.7,459.1 627.1,459.1 628.9,458.8 630.5,458.4 632.0,459.0 632.8,458.7" fill="none" stroke="#111111" stroke-width="1.8" stroke-dasharray="2 1.6" stroke-linejoin="round"/>
<polyline points="407.7,365.4 409.2,366.0 410.6,366.2 412.3,366.8 413.7,366.5 415.2,367.4 416.7,366.8 418.8,366.7 420.4,366.3 422.0,366.0 423.1,365.9 424.6,365.5 425.6,365.3 427.4,364.4 429.0,364.7 430.4,364.5 431.9,363.9 433.3,364.3 435.0,363.7 436.4,363.2 437.9,363.1 439.2,363.0 440.8,362.4 442.2,362.1 443.8,361.4 445.0,361.3 446.5,360.6 448.1,359.8 449.4,358.6 450.8,358.2 452.1,357.8 453.6,356.1 454.9,355.2 456.1,354.6 457.3,354.3 458.4,353.1 459.4,352.0 460.6,350.5 461.5,349.1 462.5,348.0 463.0,347.0 464.1,345.9 464.7,344.6 465.8,343.9 466.6,342.3 467.6,341.5 468.0,340.0 468.6,338.4 469.1,337.0 469.5,335.8 470.0,334.8 470.6,333.6 471.1,331.5 471.6,330.5 472.3,329.2 473.1,327.1 473.7,325.6 474.6,324.0 475.3,323.2 476.3,321.8 477.1,320.6 477.9,318.8 478.7,317.7 479.7,316.9 480.4,315.8 481.4,314.5 482.4,312.5 483.1,311.9 483.8,310.9 484.7,309.6 485.8,308.3 486.8,307.6 487.9,306.3 488.8,305.8 490.3,304.7 491.4,303.8 492.4,303.4 493.9,302.1 495.2,302.0 496.5,301.9 498.0,301.9 499.1,301.1 500.4,300.6 501.9,300.1 503.2,300.2 504.3,301.4 504.9,302.6 505.6,303.6 506.2,305.5 506.8,306.7 507.9,307.8 509.1,308.2 510.5,309.1 511.6,309.8 512.7,310.2 513.7,311.0 514.6,313.1 515.2,314.1 516.0,316.2 516.6,317.2 517.5,318.6 518.6,319.2 520.0,319.9 521.3,320.6 522.3,321.5 523.3,322.7 524.2,323.7 525.4,324.8 526.3,326.1 527.5,327.5 528.5,328.0 530.0,329.4 530.6,329.9 531.5,330.9 532.5,331.6 533.4,332.9 534.6,334.0 535.5,335.1 536.2,336.2 537.3,337.0 538.4,338.1 539.3,339.5 540.3,339.8 541.3,340.7 542.5,341.5 543.6,342.5 545.0,343.1 546.0,343.6 547.3,345.1 548.3,346.2 549.3,346.8 550.7,348.1 551.8,348.8 553.3,349.9 554.6,351.6 555.9,352.3 557.4,353.3 558.9,354.8 560.0,355.0 561.4,356.3 562.5,357.5 564.2,358.0 565.2,358.4 566.7,359.6 567.9,360.4 569.1,360.6 570.7,361.2 571.8,361.4 573.2,361.6 574.4,362.3 576.0,361.9 577.2,362.7 578.5,363.1 579.7,364.0 581.1,364.3 582.4,364.7 583.8,365.7 584.9,365.7 586.3,366.5 587.8,367.2 588.8,367.6 590.1,367.7 591.7,367.7 592.8,368.0 594.2,369.0 595.4,369.2 596.8,369.7 598.2,369.5 599.5,370.1 600.8,370.1 602.2,370.5 603.4,370.1 604.7,370.9 606.0,370.6 607.3,371.5 608.6,371.4 609.9,372.3 611.4,372.5 613.0,372.3 614.5,372.5 616.3,372.9 617.4,373.4 619.1,372.8 620.4,373.5 622.5,374.0 623.9,374.3 625.4,373.8 627.2,374.5 628.6,374.2 630.0,374.5 631.6,375.2 632.8,374.6" fill="none" stroke="#111111" stroke-width="2.3" stroke-linejoin="round"/>
<polyline points="407.5,406.0 409.0,406.0 410.5,406.5 412.0,406.4 413.3,406.3 414.5,406.5 416.4,406.3 418.1,406.5 419.6,406.3 421.2,406.9 422.6,406.8 423.7,406.5 425.3,406.4 427.0,406.8 428.3,407.4 430.0,407.7 431.7,407.5 433.2,407.5 434.7,407.1 436.4,407.1 437.7,406.9 439.1,407.3 440.4,406.9 442.0,406.4 443.4,405.8 445.1,405.2 446.5,405.4 447.6,404.5 449.1,404.0 450.7,403.5 451.7,402.7 453.2,403.0 454.3,401.9 455.5,401.4 456.7,400.3 457.8,399.5 458.7,398.2 459.9,397.9 461.0,396.7 462.1,395.2 463.0,394.9 464.4,393.4 465.4,392.6 466.7,391.6 467.8,390.3 469.4,388.6 470.7,387.1 471.7,385.6 473.0,384.3 473.7,383.7 474.9,382.3 475.8,380.9 476.4,380.0 477.6,378.6 478.5,377.6 479.8,377.1 480.7,375.6 481.6,374.9 482.8,373.7 483.6,372.3 484.9,371.9 486.1,370.7 487.2,370.0 488.7,369.2 490.0,368.8 491.4,368.3 492.7,369.0 494.0,368.6 495.7,368.9 497.0,368.8 498.4,370.0 499.8,369.7 500.9,370.3 502.2,371.3 503.5,372.3 504.9,372.3 506.2,373.2 507.4,373.9 508.5,374.7 509.6,376.0 510.8,376.2 511.8,377.8 513.1,378.8 514.0,379.5 515.1,380.8 516.2,381.8 517.3,382.6 518.4,382.9 519.5,384.0 520.8,385.0 521.7,386.1 523.0,386.7 524.0,388.1 525.1,389.4 526.2,390.3 527.7,391.4 528.6,392.6 530.0,393.1 530.8,394.7 531.8,394.8 532.9,396.4 534.1,397.0 535.5,397.7 536.8,399.2 538.1,400.1 539.2,401.0 540.3,402.1 541.7,403.2 543.2,404.1 544.4,404.6 545.8,405.7 547.3,407.0 548.5,407.4 550.1,408.4 551.7,409.3 553.0,410.0 554.5,410.9 555.9,411.5 557.1,412.4 558.6,412.8 560.2,413.8 561.6,413.7 562.8,414.7 564.3,415.3 565.8,415.9 567.1,417.5 568.7,417.8 569.9,418.9 571.6,418.8 572.9,419.8 574.4,420.0 575.9,420.5 577.1,421.4 578.5,421.6 579.9,421.9 581.3,422.1 583.0,422.5 584.2,423.0 585.6,422.9 587.1,423.3 588.4,424.1 589.8,424.2 591.5,424.4 592.6,424.4 594.1,424.6 595.7,424.4 596.9,424.8 598.4,424.7 599.9,425.3 601.3,424.7 602.8,425.5 604.1,424.8 605.4,425.2 606.9,425.1 608.5,425.7 610.1,425.7 611.3,425.4 613.0,425.5 615.0,425.2 616.5,424.4 618.5,424.8 620.2,424.6 622.0,424.5 623.7,424.6 625.0,425.0 626.5,424.7 627.5,425.3 629.5,425.2 631.0,425.4 632.4,426.0 632.7,426.1" fill="none" stroke="#111111" stroke-width="2.3" stroke-linejoin="round"/>
<polyline points="407.8,447.6 408.8,448.5 410.5,447.9 412.0,448.2 413.4,448.3 414.8,448.5 416.4,449.3 417.7,449.5 419.0,448.9 420.4,449.6 421.6,449.5 423.1,450.1 424.5,450.4 425.8,450.5 427.4,450.7 428.9,451.3 430.2,451.3 431.8,451.4 432.9,451.7 434.6,451.3 435.9,451.8 437.5,452.3 439.3,452.1 440.9,452.4 442.7,452.1 443.9,452.4 445.3,452.3 446.7,452.1 448.1,452.1 449.6,452.3 451.4,451.5 452.7,451.7 454.2,451.0 455.3,450.4 456.8,450.1 458.0,449.8 459.2,449.4 460.5,448.6 461.9,448.6 463.3,447.4 464.7,446.5 465.9,446.3 467.4,445.1 468.7,444.3 469.8,443.6 471.1,443.0 472.0,442.2 473.5,440.9 474.9,440.3 476.1,439.3 477.0,438.0 478.2,436.9 479.1,436.2 480.3,434.7 481.2,434.2 482.3,432.4 483.3,431.4 484.6,430.3 485.5,429.1 486.6,428.1 487.6,427.4 488.9,426.4 489.6,425.0 490.9,423.9 492.1,423.4 493.6,422.8 495.2,421.9 496.4,421.2 497.7,420.7 499.2,420.5 500.8,420.9 502.0,420.9 503.7,420.8 505.0,421.2 506.5,421.6 507.9,423.0 509.4,422.9 510.7,423.4 512.0,424.6 513.6,424.4 514.8,425.7 516.1,426.7 517.5,427.2 518.5,428.3 519.7,428.6 520.8,429.6 522.2,430.9 523.4,432.3 524.7,432.8 525.8,434.6 527.3,435.4 528.6,436.5 529.7,437.7 531.2,439.2 532.6,441.1 533.9,441.9 535.5,442.9 536.8,443.9 538.1,444.9 539.7,445.6 541.2,445.8 542.4,446.7 544.0,448.2 545.5,448.6 546.9,449.8 548.2,450.9 549.8,451.5 551.3,452.5 552.6,452.8 553.9,453.4 555.2,454.7 556.7,454.5 558.1,455.1 559.5,455.9 560.9,456.5 562.4,456.9 563.9,457.3 565.3,458.2 566.9,458.2 568.0,459.1 569.6,458.7 570.9,459.1 572.4,459.3 573.7,460.3 575.4,459.7 576.7,460.6 578.1,460.1 579.5,460.5 581.1,460.8 582.3,461.0 583.6,461.1 585.3,461.0 586.6,460.7 587.9,460.5 589.3,460.8 591.0,460.5 592.3,460.9 593.8,460.4 595.3,460.9 596.5,460.6 598.1,461.2 599.4,460.7 600.9,460.5 602.2,461.2 603.7,461.1 604.9,461.2 606.5,460.6 607.9,461.0 609.4,460.9 610.9,460.8 612.6,461.0 614.3,461.1 616.1,460.3 617.8,460.1 619.7,459.9 621.3,460.0 623.2,459.7 625.1,460.0 626.3,459.3 627.6,459.6 629.4,458.8 631.0,459.4 632.5,459.3 632.6,458.6" fill="none" stroke="#111111" stroke-width="2.3" stroke-linejoin="round"/>
<polyline points="644.6,438.8 644.6,480.6 596.5,480.6" fill="none" stroke="#111111" stroke-width="2.2"/>
<text x="649.2" y="466.5" font-size="13.5" fill="#1a1a1a" text-anchor="start" textLength="35.5" lengthAdjust="spacingAndGlyphs" >50 &#956;V</text>
<text x="594.3" y="500.7" font-size="13.5" fill="#1a1a1a" text-anchor="start" textLength="51" lengthAdjust="spacingAndGlyphs" >50 msec</text>
<line x1="412" y1="473.8" x2="450.7" y2="473.8" stroke="#111111" stroke-width="3" />
<line x1="412.6" y1="492.2" x2="450.7" y2="492.2" stroke="#111111" stroke-width="3" stroke-dasharray="1.6 4.8 4.7 5.1 4.4 4.7 4.8 5.1 2.5"/>
<text x="457.0" y="477.5" font-size="14" fill="#1a1a1a" text-anchor="start" textLength="67.8" lengthAdjust="spacingAndGlyphs" >ICP before</text>
<text x="457.0" y="497.3" font-size="14" fill="#1a1a1a" text-anchor="start" textLength="55.5" lengthAdjust="spacingAndGlyphs" >ICP after</text>
</svg>
</body></html>
